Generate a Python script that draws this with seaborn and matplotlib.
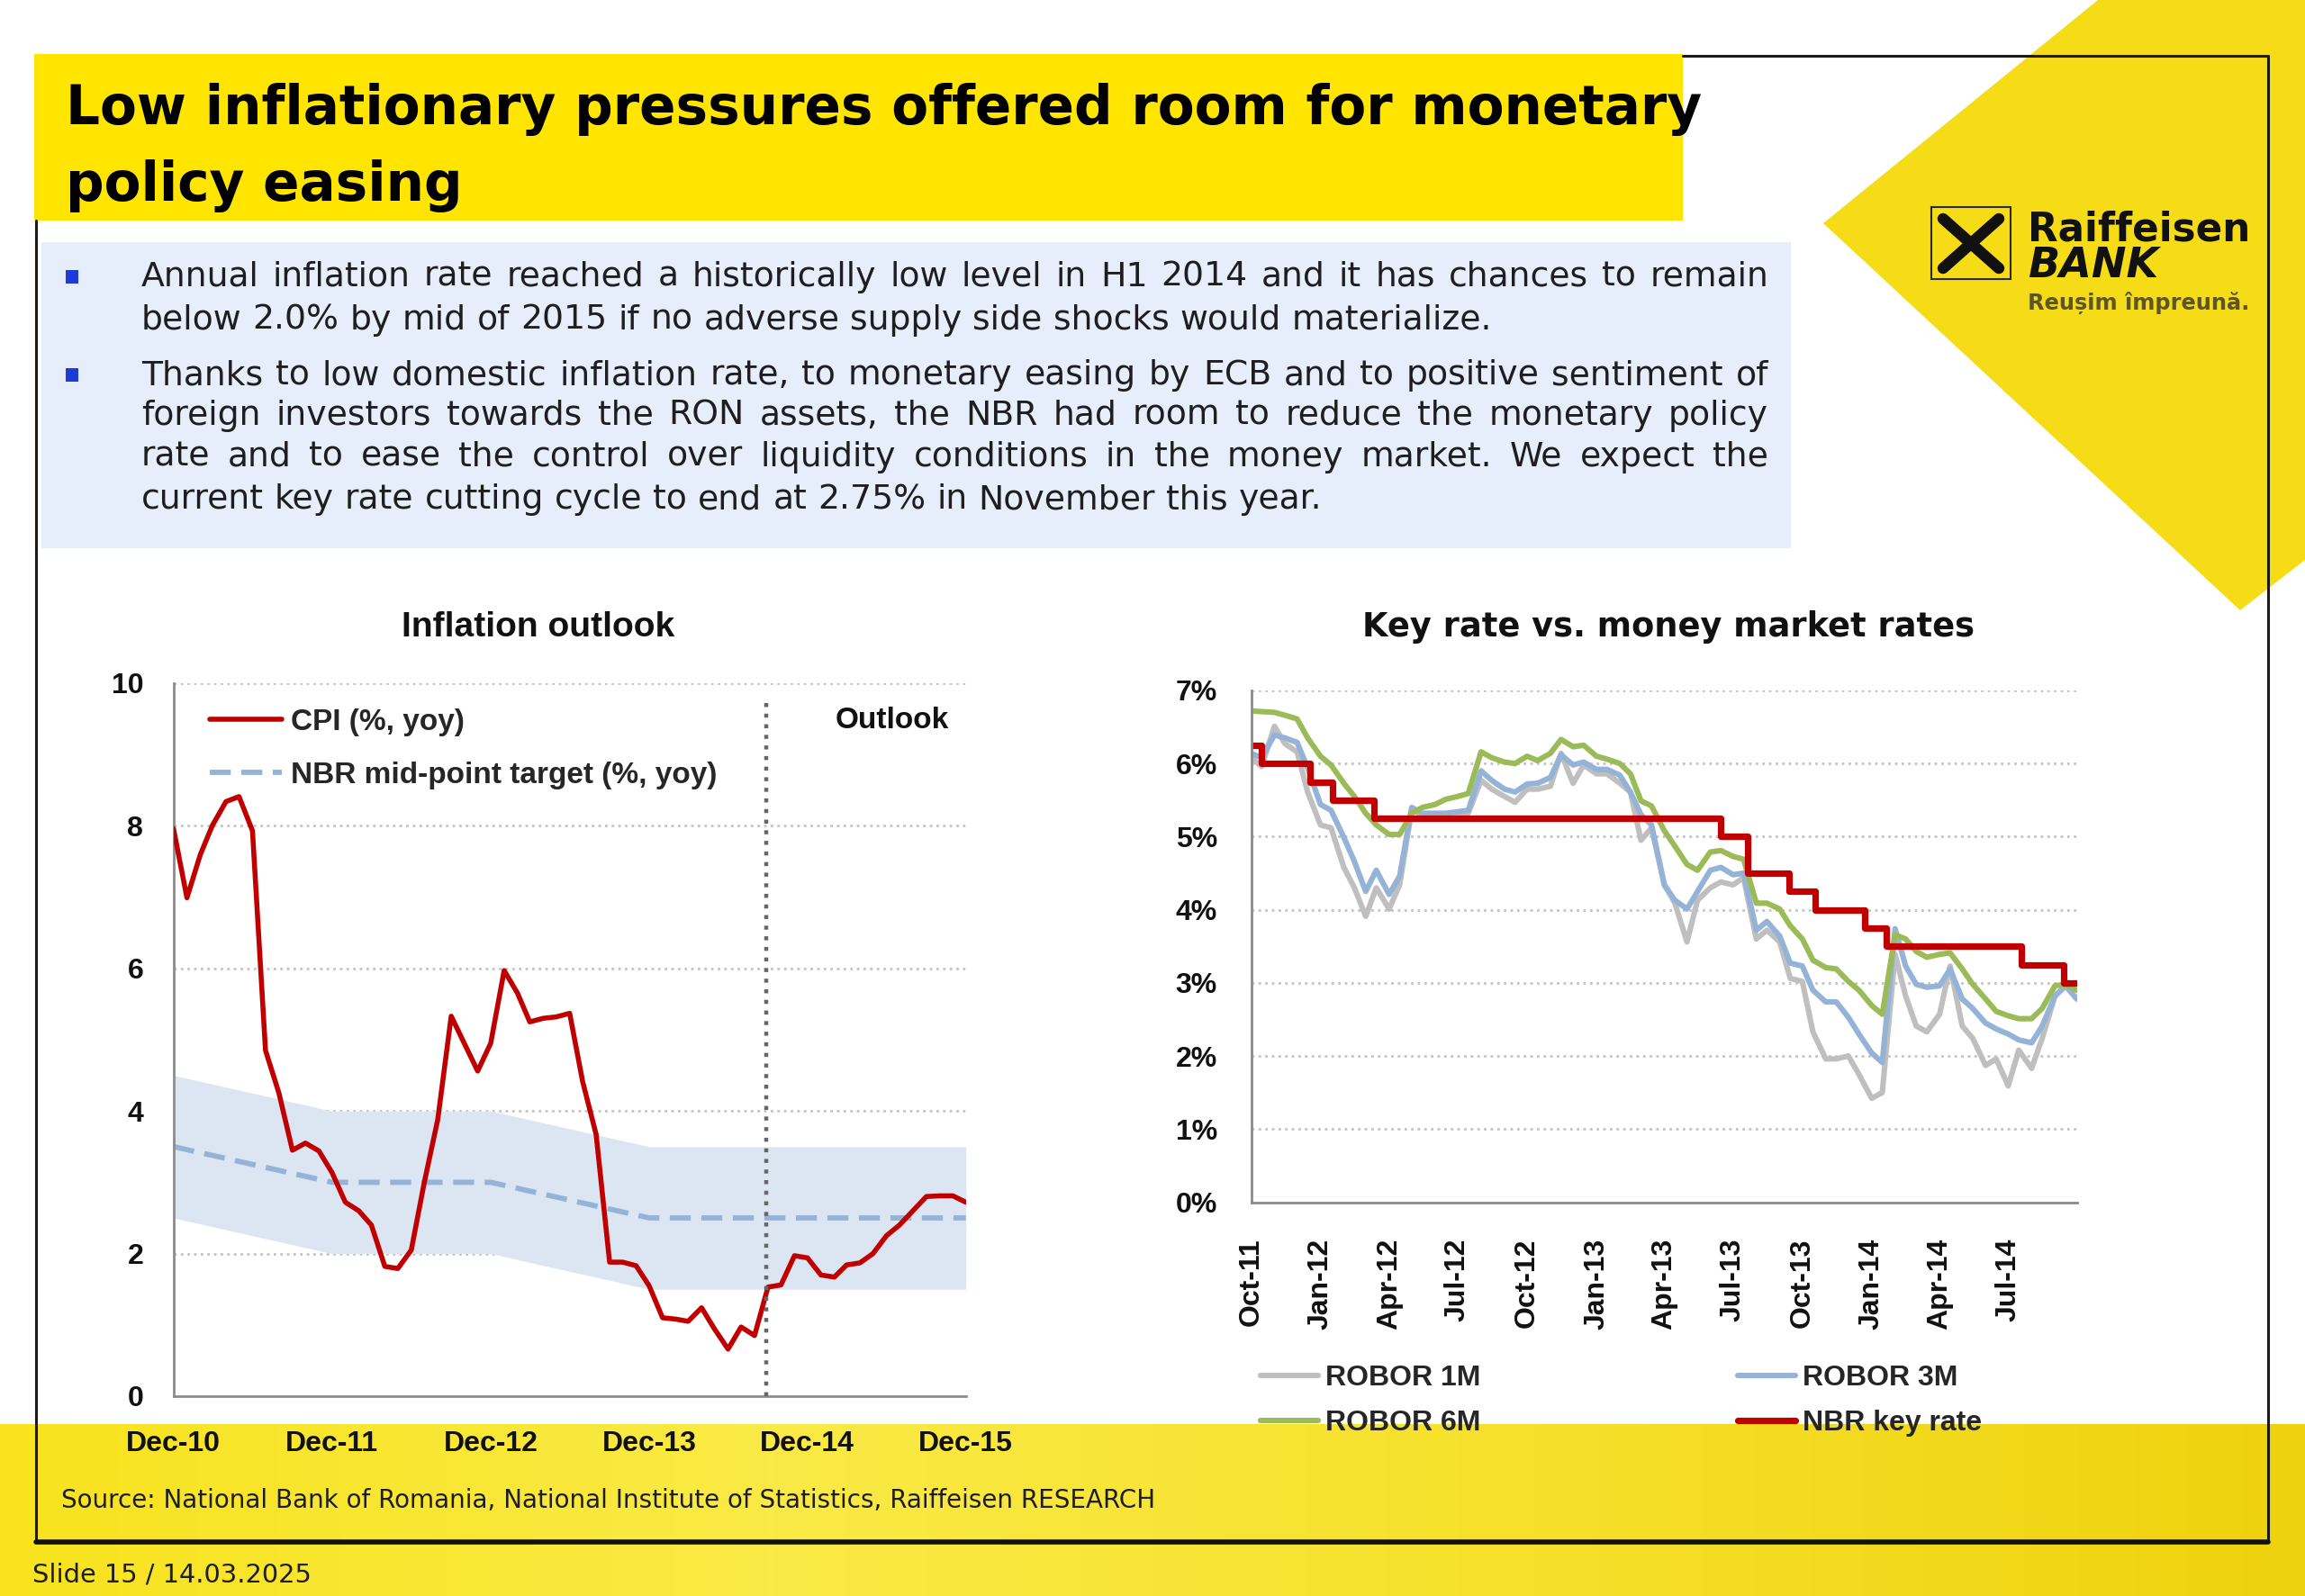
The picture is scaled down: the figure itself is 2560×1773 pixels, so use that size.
import matplotlib
matplotlib.use("Agg")
import matplotlib.pyplot as plt
import matplotlib.dates as mdates
from matplotlib.patches import Rectangle, Polygon
from matplotlib.colors import LinearSegmentedColormap
import seaborn as sns
import numpy as np
import pandas as pd

# ---- data: inflation outlook (monthly, Dec-10 .. Dec-15) ----
cpi = [7.96,
       6.99, 7.60, 8.01, 8.34, 8.41, 7.93, 4.85, 4.25, 3.45, 3.55, 3.44, 3.14,
       2.72, 2.60, 2.40, 1.82, 1.79, 2.05, 3.00, 3.88, 5.33, 4.95, 4.56, 4.95,
       5.97, 5.65, 5.25, 5.30, 5.32, 5.37, 4.41, 3.67, 1.88, 1.88, 1.83, 1.55,
       1.10, 1.08, 1.05, 1.24, 0.94, 0.66, 0.97, 0.85, 1.53, 1.56, 1.97, 1.94,
       1.70, 1.67, 1.84, 1.87, 2.00, 2.25, 2.40, 2.60, 2.80, 2.81, 2.81, 2.72]
cpi_dates = pd.date_range("2010-12-01", periods=len(cpi), freq="MS")

target_dates = pd.to_datetime(["2010-12-01", "2011-12-01", "2012-12-01",
                               "2013-12-01", "2014-12-01", "2015-12-01"])
target_mid = [3.5, 3.0, 3.0, 2.5, 2.5, 2.5]
target_low = [2.5, 2.0, 2.0, 1.5, 1.5, 1.5]
target_high = [4.5, 4.0, 4.0, 3.5, 3.5, 3.5]
outlook_start = pd.Timestamp("2014-08-27")

# ---- data: key rate vs money market rates (semi-monthly, Oct-11 .. Sep-14) ----
robor_dates = pd.date_range("2011-10-01", "2014-09-15", freq="SMS").append(
    pd.DatetimeIndex(["2014-09-30"]))

robor_1m = [6.08, 5.96, 6.51, 6.27, 6.16, 5.61,
            5.16, 5.12, 4.58, 4.30, 3.91, 4.30, 4.01, 4.34, 5.36, 5.30, 5.28, 5.28,
            5.30, 5.32, 5.77, 5.65, 5.55, 5.47, 5.65, 5.65, 5.69, 6.14, 5.73, 5.98,
            5.86, 5.86, 5.73, 5.61, 4.95, 5.12, 4.34, 4.09, 3.56, 4.13, 4.30, 4.38,
            4.34, 4.44, 3.60, 3.72, 3.56, 3.06, 3.02, 2.33, 1.96, 1.96, 2.00, 1.75,
            1.42, 1.50, 3.39, 2.82, 2.41, 2.33, 2.57, 3.23, 2.41, 2.24, 1.87, 1.96,
            1.59, 2.08, 1.83, 2.24, 2.82, 2.96, 2.78]
robor_3m = [6.14, 6.08, 6.39, 6.35, 6.29, 5.94,
            5.44, 5.36, 4.99, 4.66, 4.25, 4.54, 4.21, 4.46, 5.40, 5.32, 5.32, 5.32,
            5.34, 5.36, 5.90, 5.77, 5.65, 5.61, 5.72, 5.73, 5.81, 6.12, 5.98, 6.02,
            5.92, 5.92, 5.84, 5.61, 5.30, 5.16, 4.34, 4.13, 4.01, 4.25, 4.54, 4.58,
            4.48, 4.50, 3.72, 3.84, 3.64, 3.27, 3.23, 2.90, 2.74, 2.74, 2.53, 2.30,
            2.04, 1.91, 3.74, 3.23, 2.98, 2.94, 2.96, 3.19, 2.78, 2.65, 2.45, 2.37,
            2.30, 2.22, 2.18, 2.41, 2.82, 2.96, 2.78]
robor_6m = [6.72, 6.71, 6.70, 6.66, 6.61, 6.35,
            6.10, 5.98, 5.73, 5.55, 5.32, 5.16, 5.03, 5.03, 5.32, 5.40, 5.44, 5.51,
            5.55, 5.59, 6.16, 6.08, 6.02, 6.00, 6.10, 6.04, 6.14, 6.33, 6.23, 6.25,
            6.10, 6.06, 6.00, 5.86, 5.49, 5.42, 5.08, 4.87, 4.62, 4.54, 4.79, 4.81,
            4.73, 4.69, 4.09, 4.09, 4.01, 3.78, 3.60, 3.31, 3.21, 3.19, 3.02, 2.90,
            2.69, 2.57, 3.66, 3.60, 3.43, 3.35, 3.39, 3.41, 3.19, 2.98, 2.78, 2.61,
            2.55, 2.51, 2.51, 2.65, 2.96, 2.98, 2.90]

key_dates = pd.to_datetime(["2011-10-01", "2011-10-15", "2011-12-18", "2012-01-17",
                            "2012-03-12", "2013-06-15", "2013-07-20", "2013-09-14",
                            "2013-10-18", "2013-12-23", "2014-01-20", "2014-07-19",
                            "2014-09-13", "2014-09-30"])
key_rate = [6.25, 6.00, 5.75, 5.50, 5.25, 5.00, 4.50, 4.25, 4.00, 3.75, 3.50, 3.25,
            3.00, 3.00]

title_lines = ["Low inflationary pressures offered room for monetary", "policy easing"]
body_lines = [
    ("Annual inflation rate reached a historically low level in H1 2014 and it has chances to remain", True),
    ("below 2.0% by mid of 2015 if no adverse supply side shocks would materialize.", False),
    ("Thanks to low domestic inflation rate, to monetary easing by ECB and to positive sentiment of", True),
    ("foreign investors towards the RON assets, the NBR had room to reduce the monetary policy", True),
    ("rate and to ease the control over liquidity conditions in the money market. We expect the", True),
    ("current key rate cutting cycle to end at 2.75% in November this year.", False),
]
source = "Source: National Bank of Romania, National Institute of Statistics, Raiffeisen RESEARCH"
slide = "Slide 15 / 14.03.2025"

# ---- style ----
sns.set_theme(style="white")
plt.rcParams["font.family"] = ["Liberation Sans", "DejaVu Sans"]
plt.rcParams["font.weight"] = "bold"
body_font = ["DejaVu Sans"]

W, H = 2560, 1773
fig = plt.figure(figsize=(W / 100, H / 100), dpi=100)
renderer = fig.canvas.get_renderer()


def put_text(px, py, s, width=None, size=20, **kw):
    # place text in pixel coordinates (top-left origin), optionally fit to a width
    t = fig.text(px / W, 1 - py / H, s, fontsize=size, **kw)
    if width is not None:
        w = t.get_window_extent(renderer).width
        t.set_fontsize(size * width / w)
    return t


# ---- slide background ----
bg = fig.add_axes([0, 0, 1, 1], zorder=-10)
band = LinearSegmentedColormap.from_list("band", ["#F8E31E", "#FAEA45", "#F6E02A", "#EFD20E"])
bg.imshow(np.linspace(0, 1, 256).reshape(1, -1), extent=[0, W, H, 1582], aspect="auto", cmap=band)
bg.add_patch(Polygon([(2025, 248), (2330, 0), (2560, 0), (2560, 622), (2488, 678)],
                     closed=True, color="#F6DC17", lw=0))
bg.add_patch(Rectangle((38, 60), 1831, 185, color="#FFE500", lw=0))
bg.add_patch(Rectangle((46, 269), 1943, 340, color="#E7EEFB", lw=0))
bg.add_patch(Rectangle((73, 300), 14, 15, color="#1F3BD6", lw=0))
bg.add_patch(Rectangle((73, 409), 14, 15, color="#1F3BD6", lw=0))
bg.plot([1869, 2519], [62, 62], color="#1a1a1a", lw=2.2)
bg.plot([2519, 2519], [62, 1713], color="#1a1a1a", lw=2.2)
bg.plot([40, 40], [245, 1713], color="#1a1a1a", lw=2.2)
bg.plot([40, 2519], [1713, 1713], color="#111111", lw=4)
# logo
bg.add_patch(Rectangle((2145, 230), 88, 80, fill=False, edgecolor="#2a2a10", lw=1.5))
bg.plot([2158, 2220], [298, 243], color="#111111", lw=9, solid_capstyle="round")
bg.plot([2158, 2220], [243, 298], color="#111111", lw=9, solid_capstyle="round")
bg.set_xlim(0, W)
bg.set_ylim(H, 0)
bg.axis("off")

put_text(2252, 268, "Raiffeisen", width=248, color="#111111", va="baseline",
         family=["DejaVu Sans"])
put_text(2252, 308, "BANK", width=145, color="#111111", style="italic", va="baseline",
         family=["DejaVu Sans"])
put_text(2252, 344, "Reușim împreună.", width=246, color="#5e5526", va="baseline",
         family=["DejaVu Sans"])

# ---- headline and text box ----
tt = put_text(73, 138, title_lines[0], width=1820, family=body_font, color="#000000",
              va="baseline")
put_text(73, 223, title_lines[1], size=tt.get_fontsize(), family=body_font,
         color="#000000", va="baseline")

probe = put_text(157, 318, body_lines[0][0], size=20, family=body_font, weight="normal")
body_size = 20 * 0.975 * (1964 - 157) / probe.get_window_extent(renderer).width
probe.remove()
sp1 = put_text(0, 0, "x x", size=body_size, family=body_font, weight="normal")
sp2 = put_text(0, 0, "xx", size=body_size, family=body_font, weight="normal")
space_w = sp1.get_window_extent(renderer).width - sp2.get_window_extent(renderer).width
sp1.remove()
sp2.remove()

baselines = [318, 366, 427, 472, 518, 565]
for (line, justify), yb in zip(body_lines, baselines):
    words = line.split(" ")
    texts = [put_text(157, yb, w, size=body_size, family=body_font, weight="normal",
                      color="#1e1e1e", va="baseline") for w in words]
    widths = [t.get_window_extent(renderer).width for t in texts]
    gap = (1964 - 157 - sum(widths)) / (len(words) - 1) if justify else space_w
    x = 157
    for t, w in zip(texts, widths):
        t.set_x(x / W)
        x += w + gap

put_text(68, 1675, source, width=1213, family=body_font, weight="normal",
         color="#1e1e1e", va="baseline")
put_text(36, 1757, slide, width=310, family=body_font, weight="normal",
         color="#1e1e1e", va="baseline")

# ---- chart titles ----
put_text(598, 707, "Inflation outlook", width=303, ha="center", va="baseline", color="#111111")
put_text(1853, 707, "Key rate vs. money market rates", width=680, ha="center", va="baseline",
         color="#111111", family=["DejaVu Sans"])

grey_axis = "#8c8c8c"


def style_axis(ax, ypad):
    ax.set_facecolor("none")
    ax.spines[["top", "right"]].set_visible(False)
    for s in ["left", "bottom"]:
        ax.spines[s].set_color(grey_axis)
        ax.spines[s].set_linewidth(2)
    ax.yaxis.grid(True, ls=":", color="#c4c4c4", lw=2)
    ax.xaxis.grid(False)
    ax.set_axisbelow(True)
    ax.tick_params(axis="both", direction="out", length=7, width=2, color=grey_axis,
                   labelsize=23, labelcolor="#111111")
    ax.tick_params(axis="y", pad=ypad)
    ax.set_xlabel("")
    ax.set_ylabel("")


# ---- left chart: inflation outlook ----
ax1 = fig.add_axes([192.7 / W, 1 - 1551 / H, 880 / W, 792 / H])
ax1.fill_between(target_dates, target_low, target_high, color="#DCE6F2", lw=0, zorder=1)
sns.lineplot(x=target_dates, y=target_mid, ax=ax1, color="#95B3D7", lw=4.2,
             label="NBR mid-point target (%, yoy)", zorder=2)
ax1.lines[-1].set_dashes([4, 2])
sns.lineplot(x=cpi_dates, y=cpi, ax=ax1, color="#C00000", lw=4, label="CPI (%, yoy)", zorder=3)
ax1.axvline(outlook_start, ymin=0, ymax=0.975, color="#666666", ls=":", lw=3.2, zorder=4)
ax1.set_xlim(cpi_dates[0], cpi_dates[-1])
ax1.set_ylim(0, 10)
ax1.set_yticks([0, 2, 4, 6, 8, 10])
ax1.xaxis.set_major_locator(mdates.MonthLocator(bymonth=[12]))
ax1.xaxis.set_major_formatter(mdates.DateFormatter("%b-%y"))
style_axis(ax1, 17)
ax1.tick_params(axis="x", pad=20)
h, l = ax1.get_legend_handles_labels()
ax1.legend([h[1], h[0]], [l[1], l[0]], loc="upper left", bbox_to_anchor=(0.046, 0.965),
           frameon=False, prop=dict(weight="bold", size=24), handlelength=2.4,
           handletextpad=0.3, labelspacing=0.85, borderpad=0, borderaxespad=0)
ax1.text(0.907, 0.948, "Outlook", transform=ax1.transAxes, ha="center", va="center",
         fontsize=24, color="#111111")

# ---- right chart: key rate vs money market rates ----
ax2 = fig.add_axes([1389.5 / W, 1 - 1335.5 / H, 917.1 / W, 568.5 / H])
sns.lineplot(x=robor_dates, y=robor_1m, ax=ax2, color="#BFBFBF", lw=4.4, label="ROBOR 1M")
sns.lineplot(x=robor_dates, y=robor_3m, ax=ax2, color="#95B3D7", lw=4.4, label="ROBOR 3M")
sns.lineplot(x=robor_dates, y=robor_6m, ax=ax2, color="#9BBB59", lw=4.4, label="ROBOR 6M")
sns.lineplot(x=key_dates, y=key_rate, ax=ax2, color="#C00000", lw=5.2, label="NBR key rate",
             drawstyle="steps-post")
ax2.set_xlim(pd.Timestamp("2011-10-01"), pd.Timestamp("2014-09-30"))
ax2.set_ylim(0, 7)
ax2.set_yticks(range(0, 8))
ax2.yaxis.set_major_formatter(plt.FuncFormatter(lambda v, p: f"{v:.0f}%"))
ax2.xaxis.set_major_locator(mdates.MonthLocator(bymonth=[1, 4, 7, 10]))
ax2.xaxis.set_major_formatter(mdates.DateFormatter("%b-%y"))
style_axis(ax2, 20)
ax2.tick_params(axis="x", rotation=90, pad=22)
h, l = ax2.get_legend_handles_labels()
order = [0, 2, 1, 3]
ax2.legend([h[i] for i in order], [l[i] for i in order], ncol=2, loc="upper left",
           bbox_to_anchor=(0.0114, -0.3175), frameon=False,
           prop=dict(weight="bold", size=23), handlelength=2.0, handletextpad=0.25,
           columnspacing=8.95, labelspacing=0.63, borderpad=0, borderaxespad=0)

fig.savefig("out.png", dpi=100)
